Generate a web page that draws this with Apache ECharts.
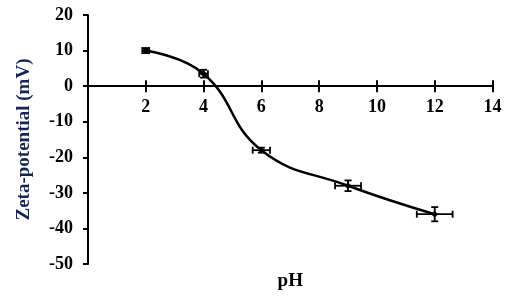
<!DOCTYPE html>
<html>
<head>
<meta charset="utf-8">
<script src="https://cdn.jsdelivr.net/npm/echarts@6/dist/echarts.min.js"></script>
<style>
html,body{margin:0;padding:0;background:#fff;}
#c{width:514px;height:297px;}
</style>
</head>
<body>
<div id="c"></div>
<script>
var phValues = [2, 4, 6, 9, 12];
var zetaValues = [10, 3.5, -18, -28, -36];
var phErrors = [0.12, 0.15, 0.3, 0.45, 0.62];
var zetaErrors = [0.7, 1.1, 0.7, 1.5, 2.0];
var xTickValues = [0, 2, 4, 6, 8, 10, 12, 14];
var yTickValues = [-50, -40, -30, -20, -10, 0, 10, 20];

var font = '"Liberation Serif", "Times New Roman", serif';
var points = phValues.map(function (x, i) { return [x, zetaValues[i]]; });
var errData = phValues.map(function (x, i) { return [x, zetaValues[i], phErrors[i], zetaErrors[i]]; });

var W = 514, H = 297;
var gridTop = 15, gridBottom = 33;
var yMin = yTickValues[0], yMax = yTickValues[yTickValues.length - 1];
var gridH = H - gridTop - gridBottom;
var zeroOffset = -gridH * (0 - yMin) / (yMax - yMin);

var chart = echarts.init(document.getElementById('c'), null, {renderer: 'canvas'});
var axisLabelStyle = {fontFamily: font, fontWeight: 'bold', fontSize: 18, color: '#000'};
chart.setOption({
  animation: false,
  grid: {left: 88, right: 21.5, top: gridTop, bottom: gridBottom, containLabel: false, outerBoundsMode: 'none'},
  xAxis: [{
    type: 'value', min: xTickValues[0], max: xTickValues[xTickValues.length - 1], interval: 2,
    position: 'bottom', offset: zeroOffset,
    name: 'pH', nameLocation: 'middle', nameGap: 185,
    nameTextStyle: {fontFamily: font, fontWeight: 'bold', fontSize: 19, color: '#000'},
    axisLine: {onZero: false, lineStyle: {color: '#000', width: 2}},
    axisTick: {show: true, length: 6, lineStyle: {color: '#000', width: 2}},
    axisLabel: Object.assign({margin: 12, showMinLabel: false, formatter: function (v) { return v === 0 ? '' : v; }}, axisLabelStyle),
    splitLine: {show: false}
  }, {
    type: 'value', min: xTickValues[0], max: xTickValues[xTickValues.length - 1], interval: 2,
    position: 'bottom', offset: zeroOffset,
    axisLine: {onZero: false, lineStyle: {color: '#000', width: 2}},
    axisTick: {show: true, inside: true, length: 6, lineStyle: {color: '#000', width: 2}},
    axisLabel: {show: false},
    splitLine: {show: false}
  }],
  yAxis: {
    type: 'value', min: yMin, max: yMax, interval: 10,
    name: 'Zeta-potential (mV)', nameLocation: 'middle', nameGap: 54, nameRotate: 90,
    nameTextStyle: {fontFamily: font, fontWeight: 'bold', fontSize: 19, color: '#142455'},
    axisLine: {show: true, onZero: false, lineStyle: {color: '#000', width: 2}},
    axisTick: {show: true, length: 5, lineStyle: {color: '#000', width: 2}},
    axisLabel: Object.assign({margin: 15}, axisLabelStyle),
    splitLine: {show: false}
  },
  series: [{
    type: 'line', data: points, smooth: 0.45, xAxisIndex: 0,
    symbol: 'diamond', symbolSize: 7,
    itemStyle: {color: '#000'},
    lineStyle: {color: '#000', width: 2.5},
    z: 3
  }, {
    type: 'custom', data: errData, z: 4, xAxisIndex: 0,
    renderItem: function (params, api) {
      var x = api.value(0), y = api.value(1), ex = api.value(2), ey = api.value(3);
      var l = api.coord([x - ex, y]), r = api.coord([x + ex, y]);
      var t = api.coord([x, y + ey]), b = api.coord([x, y - ey]);
      var cap = 3.5;
      var st = {stroke: '#000', lineWidth: 1.8};
      return {type: 'group', children: [
        {type: 'line', shape: {x1: l[0], y1: l[1], x2: r[0], y2: r[1]}, style: st},
        {type: 'line', shape: {x1: l[0], y1: l[1] - cap, x2: l[0], y2: l[1] + cap}, style: st},
        {type: 'line', shape: {x1: r[0], y1: r[1] - cap, x2: r[0], y2: r[1] + cap}, style: st},
        {type: 'line', shape: {x1: t[0], y1: t[1], x2: b[0], y2: b[1]}, style: st},
        {type: 'line', shape: {x1: t[0] - cap, y1: t[1], x2: t[0] + cap, y2: t[1]}, style: st},
        {type: 'line', shape: {x1: b[0] - cap, y1: b[1], x2: b[0] + cap, y2: b[1]}, style: st}
      ]};
    }
  }]
});
</script>
</body>
</html>
